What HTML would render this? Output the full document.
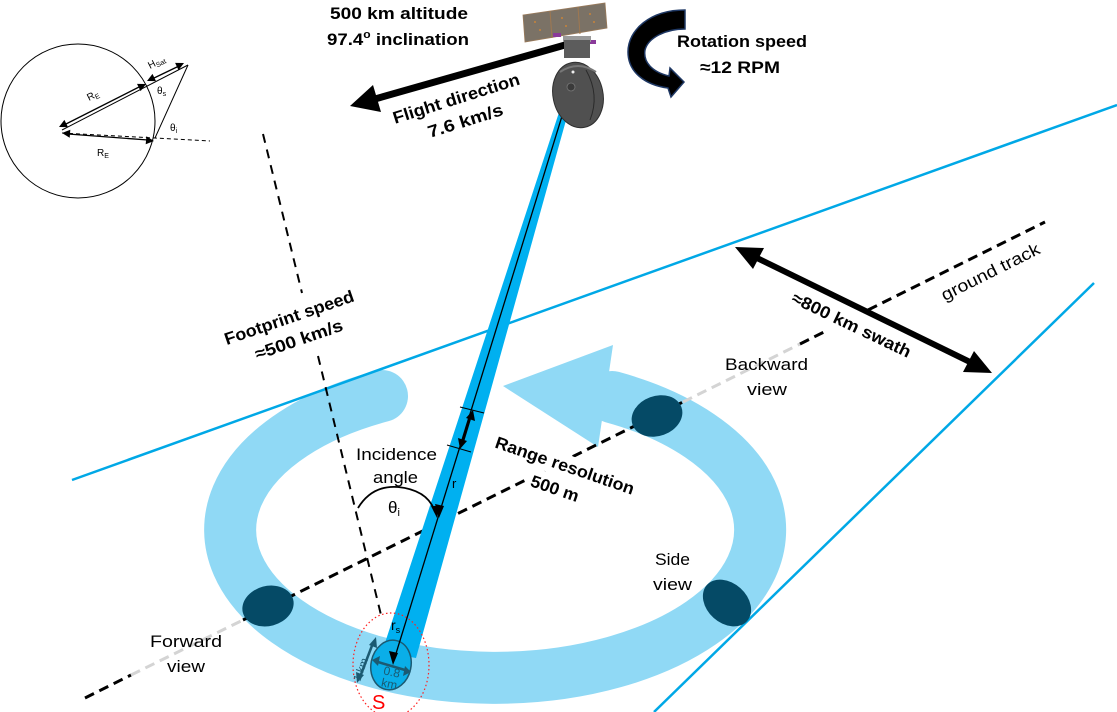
<!DOCTYPE html>
<html><head><meta charset="utf-8"><style>
html,body{margin:0;padding:0;background:#fff;}
svg{display:block;font-family:"Liberation Sans",sans-serif;}
</style></head><body>
<svg width="1117" height="712" viewBox="0 0 1117 712" xmlns="http://www.w3.org/2000/svg">
<rect width="1117" height="712" fill="#fff"/>

<!-- ring -->
<path d="M 382 396 A 265 148 0 1 0 612 397" fill="none" stroke="#90d9f5" stroke-width="52" stroke-linecap="round"/>
<polygon points="503,386 613,345 598,447" fill="#90d9f5"/>

<!-- blue swath lines -->
<line x1="72" y1="480" x2="1117" y2="105" stroke="#00a8e6" stroke-width="2.5"/>
<line x1="654" y1="712" x2="1094" y2="283" stroke="#00a8e6" stroke-width="2.5"/>

<!-- ground track -->
<g stroke-width="3" stroke-dasharray="10,6" fill="none">
<line x1="85" y1="698" x2="131" y2="675" stroke="#000"/>
<line x1="131" y1="675" x2="243" y2="620" stroke="#d4d4d4"/>
<line x1="243" y1="620" x2="683" y2="402" stroke="#000"/>
<line x1="683" y1="402" x2="800" y2="344" stroke="#d4d4d4"/>
<line x1="800" y1="344" x2="828" y2="330" stroke="#000"/>
<line x1="868" y1="310" x2="1045" y2="222" stroke="#000"/>
</g>

<!-- nadir dashed line -->
<g stroke="#000" stroke-width="2" stroke-dasharray="9,7">
<line x1="263" y1="134" x2="302" y2="293"/>
<line x1="318" y1="356" x2="381" y2="615"/>
</g>

<!-- blobs -->
<ellipse cx="268" cy="606" rx="26" ry="20" transform="rotate(-15 268 606)" fill="#054a66"/>
<ellipse cx="657" cy="416" rx="26" ry="20" transform="rotate(-20 657 416)" fill="#054a66"/>
<ellipse cx="727" cy="603" rx="27" ry="20" transform="rotate(42 727 603)" fill="#054a66"/>

<!-- white text box for range resolution -->
<g transform="translate(563,471) rotate(19)">
<rect x="-72" y="-17" width="146" height="23" fill="#fff"/>
<rect x="-32" y="6" width="62" height="24" fill="#fff"/>
</g>
<g transform="translate(849,330) rotate(25.5)">
<rect x="-66" y="-15" width="132" height="20" fill="#fff"/>
</g>

<!-- beam -->
<polygon points="567,88 575,88 416,658 382,652" fill="#00b0f0"/>
<ellipse cx="391" cy="665" rx="20" ry="25" transform="rotate(12 391 665)" fill="#0aaee8" stroke="#1b5a72" stroke-width="1.5"/>

<!-- red dotted -->
<ellipse cx="391" cy="665" rx="38" ry="52" fill="none" stroke="#ff2020" stroke-width="1.2" stroke-dasharray="1.5,2.5"/>

<!-- r line -->
<line x1="571" y1="87" x2="394" y2="660" stroke="#000" stroke-width="1.3"/>
<polygon points="439,518 435,504 444,506" fill="#000"/>
<polygon points="393,665 389,651 398,653" fill="#000"/>
<!-- range ticks -->
<line x1="460" y1="407" x2="484" y2="413" stroke="#000" stroke-width="1"/>
<line x1="447" y1="445" x2="471" y2="452" stroke="#000" stroke-width="1"/>
<line x1="470" y1="418" x2="463" y2="441" stroke="#000" stroke-width="2.5"/>
<polygon points="473,410 475,421 466,418" fill="#000"/>
<polygon points="460,449 458,438 467,441" fill="#000"/>

<!-- incidence arc -->
<path d="M 358 508 Q 372 485 398 487 Q 428 490 435 512" fill="none" stroke="#000" stroke-width="1.8"/>
<polygon points="437,518 431,506 440,506" fill="#000"/>

<!-- 1 km arrow and 0.8 km arrow -->
<line x1="373" y1="643" x2="360" y2="677" stroke="#1b5a72" stroke-width="2.5"/>
<polygon points="376,637 377,648 369,645" fill="#1b5a72"/>
<polygon points="357,683 356,672 364,675" fill="#1b5a72"/>
<line x1="378" y1="662" x2="405" y2="670" stroke="#1b5a72" stroke-width="2.5"/>
<polygon points="372,660 380,656 378,666" fill="#1b5a72"/>
<polygon points="411,672 403,676 405,666" fill="#1b5a72"/>

<!-- swath arrow -->
<line x1="755" y1="257" x2="972" y2="363" stroke="#000" stroke-width="6"/>
<polygon points="735,247 753,269 764,248" fill="#000"/>
<polygon points="992,373 963,372 974,351" fill="#000"/>

<!-- flight arrow -->
<line x1="565" y1="45" x2="375" y2="99" stroke="#000" stroke-width="7"/>
<polygon points="350,106 381,112 373,85" fill="#000"/>

<!-- satellite -->
<polygon points="523,15 605,3 607,28 525,42" fill="#7b7266" stroke="#9a7a5a" stroke-width="0.8"/>
<line x1="550" y1="11" x2="552" y2="38" stroke="#a07850" stroke-width="1"/>
<line x1="578" y1="7" x2="580" y2="34" stroke="#a07850" stroke-width="1"/>
<g fill="#c8843a">
<circle cx="535" cy="22" r="1"/><circle cx="540" cy="30" r="1"/><circle cx="562" cy="18" r="1"/><circle cx="566" cy="26" r="1"/><circle cx="590" cy="14" r="1"/><circle cx="594" cy="22" r="1"/>
</g>
<rect x="553" y="33" width="8" height="4" fill="#8a3a9a"/>
<rect x="588" y="40" width="8" height="4" fill="#8a3a9a"/>
<rect x="563" y="36" width="28" height="6" fill="#9a9a9a"/>
<rect x="564" y="40" width="26" height="18" fill="#5c5c5c"/>
<ellipse cx="578" cy="95" rx="25" ry="33" transform="rotate(-12 578 95)" fill="#505050" stroke="#2e2e2e" stroke-width="1"/>
<path d="M 560 72 Q 578 60 596 72" fill="none" stroke="#777" stroke-width="2"/>
<path d="M 586 70 Q 600 95 590 120" fill="none" stroke="#2a2a2a" stroke-width="1"/>
<circle cx="571" cy="87" r="4" fill="#3a3a3a" stroke="#777" stroke-width="0.8"/>
<circle cx="573" cy="72" r="1.5" fill="#eee"/>

<!-- rotation arrow -->
<path d="M 685 10 C 650 10 628 30 628 52 C 628 72 645 85 668 88 L 671 97 L 684 82 L 670 68 L 669 76 C 652 72 643 62 645 50 C 648 38 665 29 685 29 Z" fill="#000" stroke="#1f3864" stroke-width="1.5"/>

<!-- top-left diagram -->
<g stroke="#000" fill="none" stroke-width="1">
<circle cx="78" cy="121" r="77"/>
<line x1="62" y1="130" x2="188" y2="65"/>
<line x1="188" y1="65" x2="155" y2="138"/>
<line x1="62" y1="133" x2="210" y2="141" stroke-dasharray="4,3"/>
<line x1="64" y1="125" x2="141" y2="86" stroke-width="1.3"/>
<line x1="152" y1="79" x2="179" y2="66" stroke-width="1.3"/>
<line x1="68" y1="134" x2="148" y2="140" stroke-width="1.3"/>
</g>
<g fill="#000">
<polygon points="146,84 140.6,91.1 137,83.9"/>
<polygon points="59,127 68,127.1 64.4,119.9"/>
<polygon points="184,63 178.5,70.1 175.1,62.9"/>
<polygon points="147,81 156,81.1 152.5,73.9"/>
<polygon points="154,141 145.7,144.3 146.4,136.3"/>
<polygon points="62,133 69.7,137.7 70.3,129.7"/>
</g>
<g font-size="10" fill="#000">
<text transform="translate(89,101) rotate(-27)">R<tspan font-size="7" dy="2">E</tspan></text>
<text transform="translate(150,69) rotate(-27)">H<tspan font-size="7" dy="2">Sat</tspan></text>
<text x="157" y="94">θ<tspan font-size="7" dy="2">s</tspan></text>
<text x="170" y="131">θ<tspan font-size="7" dy="2">i</tspan></text>
<text x="97" y="156">R<tspan font-size="7" dy="2">E</tspan></text>
</g>

<!-- bold labels -->
<g font-weight="bold" font-size="17" fill="#000">
<text x="330" y="19" textLength="138" lengthAdjust="spacingAndGlyphs">500 km altitude</text>
<text x="327" y="45" textLength="142" lengthAdjust="spacingAndGlyphs">97.4<tspan font-size="11" dy="-7">o</tspan><tspan dy="7"> inclination</tspan></text>
<text x="677" y="47" textLength="130" lengthAdjust="spacingAndGlyphs">Rotation speed</text>
<text x="700" y="73" textLength="80" lengthAdjust="spacingAndGlyphs">≈12 RPM</text>
<g transform="translate(458,104) rotate(-17.5)">
<text x="0" y="0" text-anchor="middle" textLength="132" lengthAdjust="spacingAndGlyphs">Flight direction</text>
<text x="2" y="24" text-anchor="middle" textLength="78" lengthAdjust="spacingAndGlyphs">7.6 km/s</text>
</g>
<g transform="translate(291,323) rotate(-19)">
<text x="0" y="0" text-anchor="middle" textLength="136" lengthAdjust="spacingAndGlyphs">Footprint speed</text>
<text x="2" y="24" text-anchor="middle" textLength="92" lengthAdjust="spacingAndGlyphs">≈500 km/s</text>
</g>
<g transform="translate(849,330) rotate(25.5)">
<text x="0" y="0" text-anchor="middle" textLength="130" lengthAdjust="spacingAndGlyphs">≈800 km swath</text>
</g>
<g transform="translate(563,471) rotate(19)">
<text x="0" y="0" text-anchor="middle" textLength="146" lengthAdjust="spacingAndGlyphs">Range resolution</text>
<text x="-2" y="25" text-anchor="middle" textLength="50" lengthAdjust="spacingAndGlyphs">500 m</text>
</g>
</g>

<!-- normal labels -->
<g font-size="17" fill="#000">
<g transform="translate(993,277) rotate(-26.5)">
<text x="0" y="0" text-anchor="middle" textLength="108" lengthAdjust="spacingAndGlyphs">ground track</text>
</g>
<text x="725" y="370" textLength="83" lengthAdjust="spacingAndGlyphs">Backward</text>
<text x="747" y="395" textLength="40" lengthAdjust="spacingAndGlyphs">view</text>
<text x="356" y="460" textLength="81" lengthAdjust="spacingAndGlyphs">Incidence</text>
<text x="373" y="483" textLength="45" lengthAdjust="spacingAndGlyphs">angle</text>
<text x="388" y="513">θ<tspan font-size="11" dy="3">i</tspan></text>
<text x="655" y="565" textLength="35" lengthAdjust="spacingAndGlyphs">Side</text>
<text x="653" y="590" textLength="39" lengthAdjust="spacingAndGlyphs">view</text>
<text x="150" y="647" textLength="72" lengthAdjust="spacingAndGlyphs">Forward</text>
<text x="167" y="672" textLength="38" lengthAdjust="spacingAndGlyphs">view</text>
<text x="452" y="488" font-size="13">r</text>
<text x="391" y="630" font-size="14">r<tspan font-size="9" dy="3">s</tspan></text>
</g>
<text transform="translate(360,682) rotate(-70)" font-size="11" fill="#1b5a72">1 km</text>
<g transform="translate(391,676) rotate(12)" font-size="12" fill="#1b5a72" text-anchor="middle">
<text x="0" y="0">0.8</text>
<text x="0" y="12">km</text>
</g>
<text x="372" y="709" font-size="20" fill="#ff0000">S</text>
</svg>
</body></html>
